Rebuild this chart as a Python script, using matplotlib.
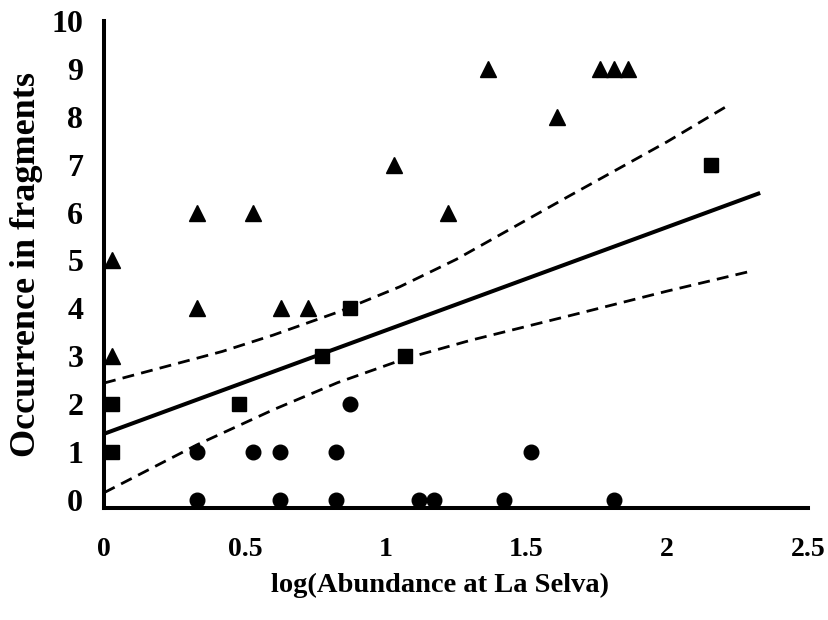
import matplotlib.pyplot as plt

plt.rcParams['font.family'] = 'Liberation Serif'
plt.rcParams['font.weight'] = 'bold'

# triangles
tri_x = [0.03, 0.03, 0.33, 0.33, 0.53, 0.63, 0.725, 1.03, 1.22, 1.365, 1.61, 1.76, 1.81, 1.86]
tri_y = [5, 3, 6, 4, 6, 4, 4, 7, 6, 9, 8, 9, 9, 9]

# squares
sq_x = [0.03, 0.03, 0.48, 0.775, 0.875, 1.07, 2.155]
sq_y = [2, 1, 2, 3, 4, 3, 7]

# circles
circ_x = [0.33, 0.53, 0.625, 0.825, 0.875, 1.515,
          0.33, 0.625, 0.825, 1.12, 1.17, 1.42, 1.81]
circ_y = [1, 1, 1, 1, 2, 1,
          0, 0, 0, 0, 0, 0, 0]

# regression line and confidence band
fit_x = [0, 2.33]
fit_y = [1.38, 6.41]
upper_x = [0, 0.42, 0.6, 0.83, 1.05, 1.25, 1.65, 2.0, 2.22]
upper_y = [2.44, 3.10, 3.44, 3.92, 4.45, 5.02, 6.34, 7.48, 8.25]
lower_x = [0, 0.33, 0.6, 0.83, 1.07, 1.3, 1.69, 2.0, 2.3]
lower_y = [0.15, 1.15, 1.88, 2.45, 2.95, 3.33, 3.90, 4.36, 4.78]

fig = plt.figure(figsize=(8.29, 6.2), dpi=100)
ax = fig.add_axes([0.1255, 0.1806, 0.8492, 0.7855])

ax.plot(fit_x, fit_y, color='black', lw=2.9, solid_capstyle='butt')
ax.plot(upper_x, upper_y, color='black', lw=2, dashes=(4.3, 2.6))
ax.plot(lower_x, lower_y, color='black', lw=2, dashes=(4.3, 2.6))

ax.plot(tri_x, tri_y, '^', color='black', ms=11.5, clip_on=False)
ax.plot(sq_x, sq_y, 's', color='black', ms=10.5, clip_on=False)
ax.plot(circ_x, circ_y, 'o', color='black', ms=10.5, clip_on=False)

ax.set_xlim(0, 2.5)
ax.set_ylim(-0.17, 10)
ax.set_xticks([0, 0.5, 1, 1.5, 2, 2.5])
ax.set_xticklabels(['0', '0.5', '1', '1.5', '2', '2.5'])
ax.set_yticks(range(0, 11))

for s in ['top', 'right']:
    ax.spines[s].set_visible(False)
for s in ['left', 'bottom']:
    ax.spines[s].set_linewidth(2.9)

ax.tick_params(axis='x', length=0, pad=21, labelsize=20)
ax.tick_params(axis='y', length=0, pad=15, labelsize=23)

ax.set_xlabel('log(Abundance at La Selva)', fontsize=20.5, fontweight='bold', labelpad=8)
ax.xaxis.label.set_x(0.477)
ax.set_ylabel('Occurrence in fragments', fontsize=26, fontweight='bold', labelpad=6)

fig.savefig('out.png', dpi=100)
